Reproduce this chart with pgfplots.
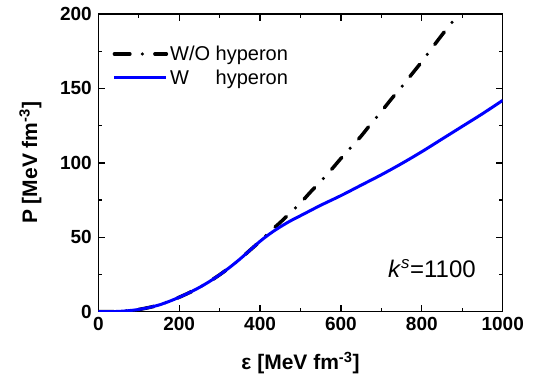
\documentclass[border=0pt]{standalone}
\usepackage{fontspec}
\setmainfont{Liberation Sans}
\usepackage{pgfplots}
\pgfplotsset{compat=1.18}
\definecolor{myblue}{RGB}{0,0,255}
\begin{document}
\begin{tikzpicture}
\begin{axis}[name=ax,
  width=404.4pt, height=297.7pt, scale only axis,
  xmin=0, xmax=1000, ymin=0, ymax=200,
  xtick={0,200,...,1000}, ytick={0,50,...,200},
  minor x tick num=1, minor y tick num=1,
  scaled ticks=false,
  tick align=inside, major tick length=7pt, minor tick length=4pt,
  axis line style={line width=1.5pt},
  every tick/.style={line width=1.3pt, black},
  /pgf/number format/assume math mode=true,
  /pgf/number format/1000 sep={},
  tick label style={font=\fontsize{19}{19}\selectfont\bfseries},
  yticklabel style={xshift=-3pt},
  xticklabel style={yshift=-2pt},
  xlabel={ε [MeV fm\textsuperscript{-3}]},
  ylabel={P [MeV fm\textsuperscript{-3}]},
  every axis x label/.style={at={(axis description cs:0.5,-0.172)}, anchor=center, font=\fontsize{21}{21}\selectfont\bfseries},
  every axis y label/.style={at={(axis description cs:-0.168,0.5)}, rotate=90, anchor=center, font=\fontsize{21}{21}\selectfont\bfseries},
  legend style={draw=none, fill=none, at={(axis description cs:0.035,0.9)}, anchor=north west,
    font=\fontsize{20}{20}\selectfont, row sep=4pt, inner sep=0pt},
  legend cell align=left,
  legend image code/.code={\draw[#1] (0pt,0pt) -- (52pt,0pt);},
]
\addplot[black, line width=3.5pt, line cap=round, dash pattern=on 15.5pt off 12.5pt on 0pt off 12.5pt, smooth] coordinates {
(0,0) (25,0.05) (50,0.2) (75,0.7) (100,1.5) (125,2.8) (150,4.5) (175,6.9) (200,9.7) (225,12.8) (250,16.3) (275,20.3) (300,24.8) (325,29.8) (350,35.3) (375,41.3) (400,47.3)
(425,54) (450,60) (475,66.5) (500,73) (525,80.5) (550,87.5) (575,95) (600,103) (625,110.5) (650,118) (675,126.5) (700,134.5) (725,143) (750,151) (775,159.5) (800,168) (825,177) (850,186) (875,194.5)
};
\addlegendentry{W/O hyperon}
\addplot[myblue, line width=3pt, smooth] coordinates {
(0,0) (25,0.05) (50,0.2) (75,0.7) (100,1.5) (125,2.8) (150,4.5) (175,6.9) (200,9.7) (225,12.8) (250,16.3) (275,20.3) (300,24.8) (325,29.8) (350,35.3) (375,41.3) (400,47.3) (425,52.5) (450,57) (475,61) (500,64.5) (550,71.5) (600,78) (650,85) (700,92) (750,99.5) (800,107.5) (850,116) (900,124.5) (950,133) (1000,142)
};
\addlegendentry{W\phantom{/O} hyperon}
\node[font=\fontsize{24}{24}\selectfont] at (axis cs:825,29) {\textit{k}\textsuperscript{\textit{s}}=1100};
\end{axis}
\pgfresetboundingbox
\path[use as bounding box] ([shift={(-98.3pt,-69.3pt)}]ax.south west) rectangle ([shift={(40.3pt,14pt)}]ax.north east);
\end{tikzpicture}
\end{document}
